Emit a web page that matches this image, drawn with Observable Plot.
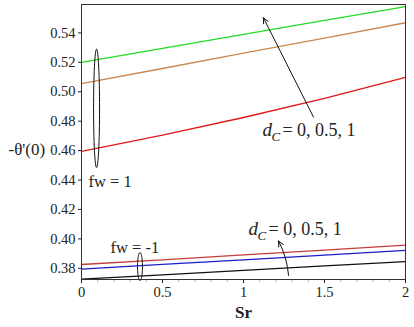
<!DOCTYPE html>
<html>
<head>
<meta charset="utf-8">
<script src="https://cdn.jsdelivr.net/npm/d3@7"></script>
<script src="https://cdn.jsdelivr.net/npm/@observablehq/plot@0.6"></script>
<style>
  html, body { margin: 0; padding: 0; background: #fff; }
  svg, svg text { font-family: "Liberation Serif", "Times New Roman", serif !important; }
</style>
</head>
<body>
<div id="chart"></div>
<script>
// ---- data ----
const sr = [0, 0.5, 1, 1.5, 2];
// fw = 1 group
const fw1_dc0 = [0.5200, 0.5295, 0.5390, 0.5485, 0.5579]; // green
const fw1_dc05 = [0.5055, 0.5158, 0.5262, 0.5365, 0.5469]; // brown
const fw1_dc1 = [0.4595, 0.4705, 0.4825, 0.4955, 0.5097]; // red
// fw = -1 group
const fwm1_a = [0.3826, 0.3858, 0.3891, 0.3924, 0.3957]; // red
const fwm1_b = [0.3795, 0.3827, 0.3858, 0.3890, 0.3922]; // blue
const fwm1_c = [0.3726, 0.3756, 0.3786, 0.3816, 0.3846]; // black

const seriesNames = ["fw1_dc0", "fw1_dc05", "fw1_dc1", "fwm1_a", "fwm1_b", "fwm1_c"];
const seriesValues = [fw1_dc0, fw1_dc05, fw1_dc1, fwm1_a, fwm1_b, fwm1_c];
const seriesColors = ["#22dd22", "#c8884e", "#e01818", "#c43c3c", "#1c1ccc", "#111111"];

const yTicks = [0.38, 0.40, 0.42, 0.44, 0.46, 0.48, 0.50, 0.52, 0.54];
const yTickLabels = ["0.38", "0.40", "0.42", "0.44", "0.46", "0.48", "0.50", "0.52", "0.54"];
const xTicks = [0, 0.5, 1, 1.5, 2];
const xTickLabels = ["0", "0.5", "1", "1.5", "2"];
const xMinor = [0.1,0.2,0.3,0.4,0.6,0.7,0.8,0.9,1.1,1.2,1.3,1.4,1.6,1.7,1.8,1.9];

const yDomain = [0.3724, 0.5593];
const xDomain = [0, 2];

// annotation ellipses (center x, center y, rx, ry in data units)
const ellipses = [
  {cx: 0.093, cy: 0.4887, rx: 0.0185, ry: 0.0403},
  {cx: 0.361, cy: 0.3812, rx: 0.0154, ry: 0.0095}
];
// arrows
const arrowTop = [{x1: 1.432, y1: 0.4828, x2: 1.123, y2: 0.5503}];
const arrowBottom = [{x1: 1.278, y1: 0.3752, x2: 1.216, y2: 0.3986}];

// ---- build ----
const rows = [];
seriesValues.forEach((vals, i) => {
  vals.forEach((v, j) => rows.push({series: seriesNames[i], x: sr[j], y: v, color: seriesColors[i]}));
});

const ellipseRows = [];
ellipses.forEach((e, k) => {
  for (let t = 0; t <= 64; t++) {
    const a = (t / 64) * 2 * Math.PI;
    ellipseRows.push({k, x: e.cx + e.rx * Math.cos(a), y: e.cy + e.ry * Math.sin(a)});
  }
});

const serif = "Liberation Serif, Times New Roman, serif";
const xLab = xTicks.map((v, i) => ({v, t: xTickLabels[i]}));
const yLab = yTicks.map((v, i) => ({v, t: yTickLabels[i]}));

const chart = Plot.plot({
  width: 414,
  height: 327,
  marginLeft: 81,
  marginRight: 9,
  marginTop: 4,
  marginBottom: 48,
  style: {fontFamily: serif, fontSize: "14px", color: "#222", background: "#fff"},
  x: {domain: xDomain, ticks: xTicks, tickFormat: () => "", tickSize: 4, label: null},
  y: {domain: yDomain, ticks: yTicks, tickFormat: () => "", tickSize: 3, label: null},
  marks: [
    Plot.ruleX(xMinor, {y1: yDomain[0], y2: yDomain[0] - 0.0021, stroke: "#999", strokeWidth: 0.8}),
    Plot.line(rows, {x: "x", y: "y", z: "series", stroke: "color", strokeWidth: 1.3}),
    Plot.line(ellipseRows, {x: "x", y: "y", z: "k", stroke: "#111", strokeWidth: 1}),
    Plot.arrow(arrowTop, {x1: "x1", y1: "y1", x2: "x2", y2: "y2", stroke: "#111", strokeWidth: 1, headLength: 9, headAngle: 50}),
    Plot.arrow(arrowBottom, {x1: "x1", y1: "y1", x2: "x2", y2: "y2", bend: -12, stroke: "#111", strokeWidth: 1, headLength: 9, headAngle: 50}),
    Plot.frame({stroke: "#333", strokeWidth: 1}),
    // tick labels
    Plot.text(xLab, {x: "v", text: "t", frameAnchor: "bottom", dy: 17, fontSize: 14.5, fontFamily: serif, fill: "#222"}),
    Plot.text(yLab, {y: "v", text: "t", frameAnchor: "left", dx: -6, textAnchor: "end", fontSize: 14.5, fontFamily: serif, fill: "#222"}),
    // fw labels
    Plot.text(["fw = 1"], {x: 0.043, y: 0.4386, textAnchor: "start", fontSize: 16.5, fontFamily: serif}),
    Plot.text(["fw = -1"], {x: 0.179, y: 0.3938, textAnchor: "start", fontSize: 16.5, fontFamily: serif}),
    // d_C labels (top)
    Plot.text(["d"], {x: 1.117, y: 0.4738, textAnchor: "start", fontSize: 19, fontStyle: "italic", fontFamily: serif}),
    Plot.text(["C"], {x: 1.117, y: 0.4738, dx: 9, dy: 7, textAnchor: "start", fontSize: 13, fontStyle: "italic", fontFamily: serif}),
    Plot.text(["= 0, 0.5, 1"], {x: 1.117, y: 0.4738, dx: 20, textAnchor: "start", fontSize: 18, fontFamily: serif}),
    // d_C labels (bottom)
    Plot.text(["d"], {x: 1.031, y: 0.4069, textAnchor: "start", fontSize: 19, fontStyle: "italic", fontFamily: serif}),
    Plot.text(["C"], {x: 1.031, y: 0.4069, dx: 9, dy: 7, textAnchor: "start", fontSize: 13, fontStyle: "italic", fontFamily: serif}),
    Plot.text(["= 0, 0.5, 1"], {x: 1.031, y: 0.4069, dx: 20, textAnchor: "start", fontSize: 18, fontFamily: serif}),
    // axis labels
    Plot.text(["-θ'(0)"], {frameAnchor: "left", dx: -73, dy: 8, textAnchor: "start", fontSize: 17, fontFamily: serif}),
    Plot.text(["Sr"], {frameAnchor: "bottom", dy: 38, fontSize: 17, fontWeight: "bold", fontFamily: serif})
  ]
});
document.getElementById("chart").appendChild(chart);
</script>
</body>
</html>
